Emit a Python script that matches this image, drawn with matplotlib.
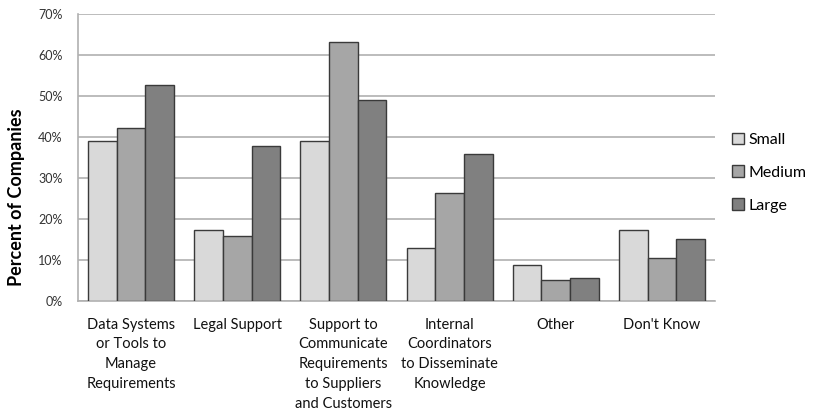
import matplotlib.pyplot as plt
import numpy as np
from matplotlib.patches import Patch
from matplotlib.ticker import PercentFormatter

plt.rcParams['font.family'] = ['Lato', 'DejaVu Sans']

# Survey results: share of companies by size
categories = [
    "Data Systems\nor Tools to\nManage\nRequirements",
    "Legal Support",
    "Support to\nCommunicate\nRequirements\nto Suppliers\nand Customers",
    "Internal\nCoordinators\nto Disseminate\nKnowledge",
    "Other",
    "Don't Know",
]
small = [39.1, 17.4, 39.1, 13.0, 8.7, 17.4]
medium = [42.1, 15.8, 63.1, 26.3, 5.2, 10.6]
large = [52.8, 37.7, 49.0, 35.8, 5.7, 15.1]
series_names = ["Small", "Medium", "Large"]
colors = ["#d9d9d9", "#a6a6a6", "#808080"]

fig = plt.figure(figsize=(8.14, 4.15), dpi=100)
ax = fig.add_axes([0.0958, 0.2747, 0.7826, 0.6916])

x = np.arange(len(categories))
width = 0.27
for i, vals in enumerate([small, medium, large]):
    ax.bar(x + (i - 1) * width, vals, width, color=colors[i],
           edgecolor="#3a3a3a", linewidth=1.0, zorder=3)

ax.set_xlim(-0.5, len(categories) - 0.5)
ax.set_ylim(0, 70)
ax.set_yticks(np.arange(0, 71, 10))
ax.yaxis.set_major_formatter(PercentFormatter(decimals=0))
ax.grid(axis="y", color="#b0b0b0", linewidth=1.2, zorder=0)

ax.set_xticks(x)
ax.set_xticklabels(categories, fontsize=10.5, color="#111111", va="top",
                   linespacing=1.52)
ax.tick_params(axis="x", length=0, pad=12)
ax.tick_params(axis="y", length=0, pad=11, labelsize=9, colors="#333333")

for side in ["top", "right"]:
    ax.spines[side].set_visible(False)
ax.spines["left"].set_color("#b0b0b0")
ax.spines["bottom"].set_color("#b0b0b0")
ax.spines["left"].set_linewidth(1.2)
ax.spines["bottom"].set_linewidth(1.2)

fig.text(17 / 814, 1 - 197 / 415, "Percent of Companies", rotation=90,
         fontsize=13, fontweight="bold", ha="center", va="center")

handles = [Patch(facecolor=c, edgecolor="#3a3a3a", linewidth=1.0) for c in colors]
fig.legend(handles, series_names, loc="center left", bbox_to_anchor=(0.899, 0.584),
           frameon=False, fontsize=11.5, handlelength=0.75, handleheight=0.75,
           handletextpad=0.3, labelspacing=1.15, borderpad=0, borderaxespad=0)

fig.savefig("out.png", dpi=100)
